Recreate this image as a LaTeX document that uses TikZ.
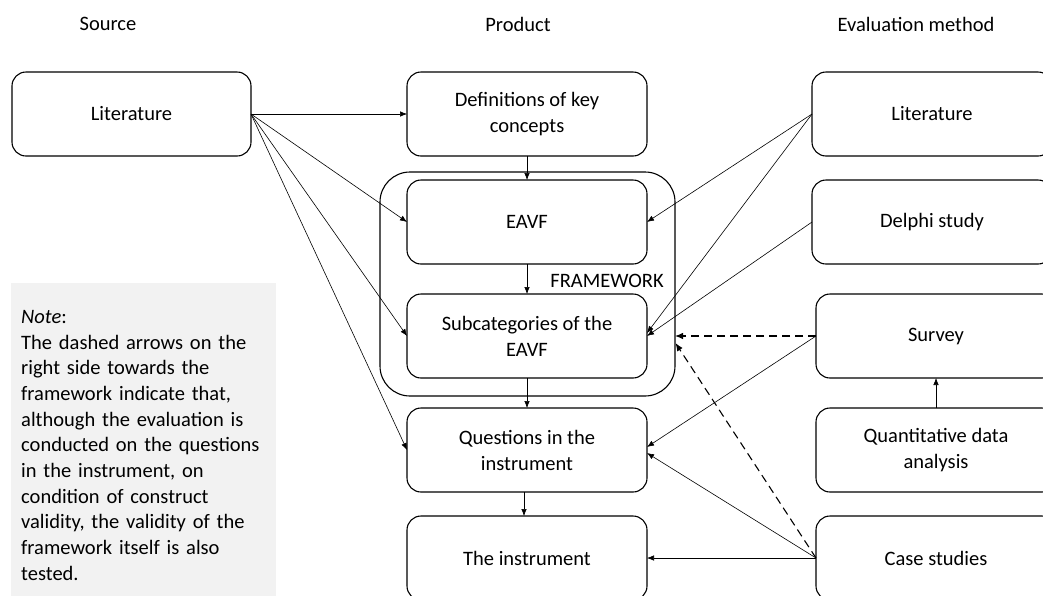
\documentclass[tikz,border=0pt]{standalone}
\usepackage{fontspec}
\setmainfont{Carlito}
\usetikzlibrary{arrows.meta}
\begin{document}
\begin{tikzpicture}[x=1pt,y=-1pt,
 box/.style={draw, line width=1.1pt, rounded corners=14pt, minimum width=240pt, minimum height=84pt, align=center, inner sep=0pt, outer sep=0pt, font=\fontsize{20.5}{26}\selectfont},
 conn/.style={line width=0.6pt, -{Latex[length=7pt,width=5.5pt]}},
 dconn/.style={line width=1.1pt, dash pattern=on 8pt off 5pt, -{Latex[length=8pt,width=6.5pt]}},
 hdr/.style={font=\fontsize{20.5}{25}\selectfont, inner sep=0pt}]
\useasboundingbox (0,0) rectangle (1043,595);
% headers
\node[hdr] (hs) at (108,24) {Source};
\node[hdr] (hp) at (518,24) {Product};
\node[hdr] (he) at (916,24) {Evaluation method};
% framework container
\node[draw, line width=1.1pt, rounded corners=30pt, minimum width=295pt, minimum height=224pt, inner sep=0pt, outer sep=0pt] (fw) at (527.5,284) {};
\node[hdr] (fwl) at (607,281) {FRAMEWORK};
% source
\node[box, minimum width=239pt] (sl) at (131.5,114) {Literature};
% product
\node[box] (d) at (527,114) {Definitions of key\\concepts};
\node[box] (e) at (527,222) {EAVF};
\node[box] (s) at (527,336) {Subcategories of the\\EAVF};
\node[box] (q) at (527,450) {Questions in the\\instrument};
\node[box] (i) at (527,558) {The instrument};
% evaluation
\node[box] (rl) at (932,114) {Literature};
\node[box] (dl) at (932,222) {Delphi study};
\node[box] (sv) at (936,336) {Survey};
\node[box] (qa) at (936,450) {Quantitative data\\analysis};
\node[box] (cs) at (936,558) {Case studies};
% note
\node[fill=black!5, anchor=north west, text width=245pt, inner xsep=10pt, inner ysep=27pt, align=left, font=\fontsize{20.5}{25.7}\selectfont] (note) at (11,283)
 {\textit{Note}:\\The dashed arrows on the\\right side towards the\\framework indicate that,\\although the evaluation is\\conducted on the questions\\in the instrument, on\\condition of construct\\validity, the validity of the\\framework itself is also\\tested.};
% source arrows
\draw[conn] (sl.east) -- (d.west);
\draw[conn] (sl.east) -- (e.west);
\draw[conn] (sl.east) -- (s.west);
\draw[conn] (sl.east) -- (q.west);
% product chain
\draw[conn] (d.south) -- (e.north);
\draw[conn] (e.south) -- (s.north);
\draw[conn] (s.south) -- (q.north);
\draw[conn] ([xshift=-3pt]q.south) -- ([xshift=-3pt]i.north);
% evaluation arrows
\draw[conn] (rl.west) -- (e.east);
\draw[conn] (rl.west) -- ([yshift=3pt]s.east);
\draw[conn] (dl.west) -- (s.east);
\draw[conn] (sv.west) -- ([yshift=3pt]q.east);
\draw[conn] (cs.west) -- ([yshift=-3pt]q.east);
\draw[conn] (cs.west) -- (i.east);
\draw[conn] (qa.north) -- (sv.south);
\coordinate (fd1) at (fw.east |- sv.west);
\coordinate (fd2) at (675.5,343);
\draw[dconn] (sv.west) -- (fd1);
\draw[dconn] (cs.west) -- (fd2);
\end{tikzpicture}
\end{document}
